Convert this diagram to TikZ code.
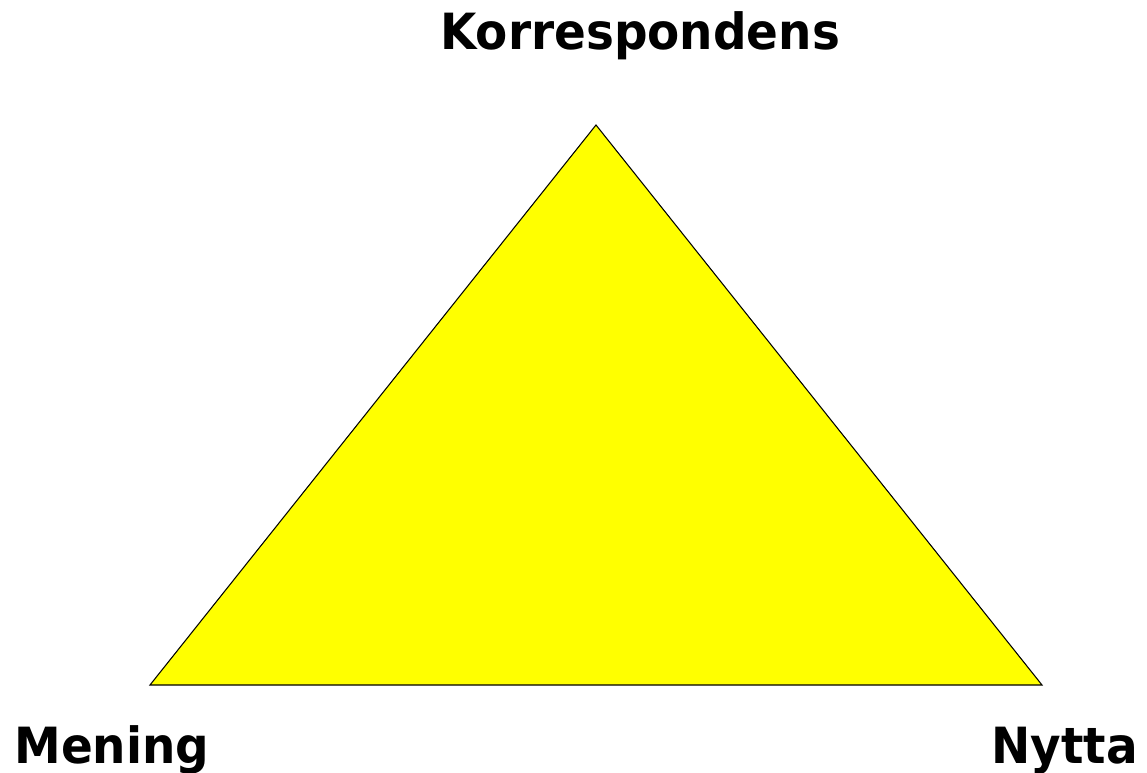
\documentclass[tikz,border=0pt]{standalone}
\usepackage{fontspec}
\setmainfont{DejaVu Sans}[FakeStretch=0.94]
\usetikzlibrary{positioning}
\definecolor{trifill}{RGB}{255,255,0}

\begin{document}
\begin{tikzpicture}[x=0.02cm,y=-0.02cm,font=\bfseries\fontsize{28.4}{32}\selectfont]
        \useasboundingbox (0,0) rectangle (1147,773);
        \coordinate (top) at (596,125);
        \coordinate (left) at (150,685);
        \coordinate (right) at (1042,685);
        \draw[fill=trifill,line width=0.6pt] (top) -- (left) -- (right) -- cycle;
        \node[anchor=base west,inner sep=0pt] (korr) at (440,50) {Korrespondens};
        \node[anchor=base west,inner sep=0pt] (mening) at (14,763) {Mening};
        \node[anchor=base east,inner sep=0pt] (nytta) at (1138,763) {Nytta};
      \end{tikzpicture}
\end{document}
